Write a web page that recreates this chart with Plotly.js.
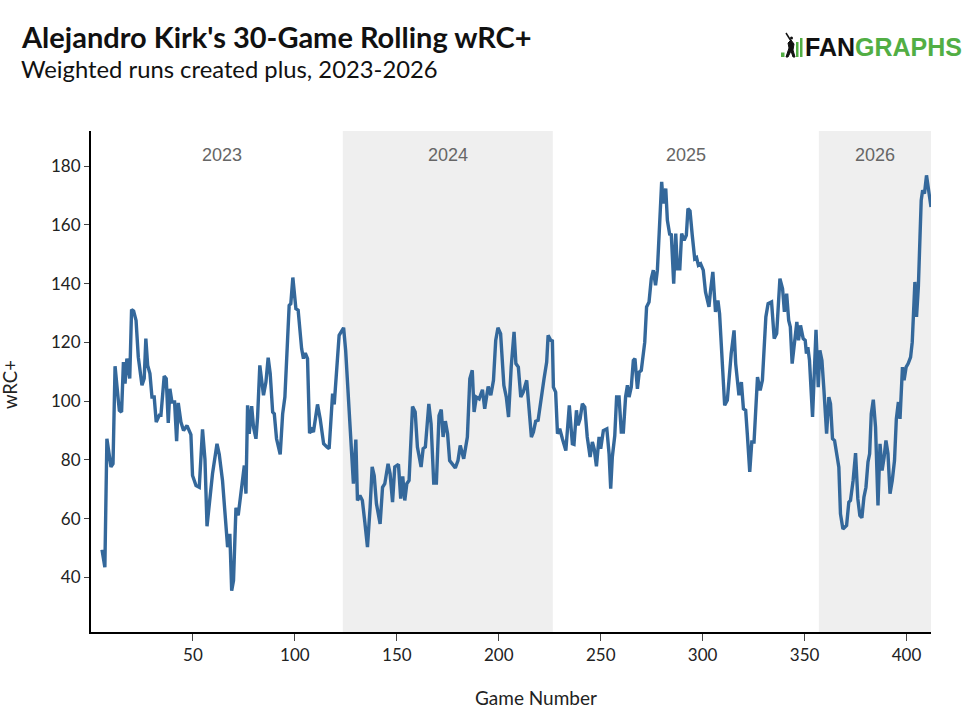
<!DOCTYPE html>
<html>
<head>
<meta charset="utf-8">
<script src="https://cdn.plot.ly/plotly-3.0.1.min.js"></script>
<style>html,body{margin:0;padding:0;background:#fff;}#chart{width:975px;height:711px;}</style>
</head>
<body>
<div id="chart"></div>
<script>
// ---- data ----
const games = [
5.4, 6.8, 7.8, 9.8, 10.8, 11.8, 13.4, 13.9, 15.0, 15.9, 16.7, 17.6, 19.0, 19.9, 20.9, 22.1, 23.2, 25.0, 26.1, 26.9, 27.8, 28.9, 29.9, 31.0, 32.0, 33.5, 34.3, 35.9, 36.9, 37.9, 38.7, 39.7, 41.0, 42.0, 42.8, 44.1, 45.4, 47.1, 49.0, 49.8, 51.5, 53.1, 54.7, 55.9, 56.9, 58.0, 59.6, 61.8, 62.9, 64.5, 66.2, 67.0, 68.1, 69.0, 69.9, 71.1, 72.2, 73.2, 74.4, 75.2, 76.0, 76.8, 77.6, 78.8, 79.7, 80.9, 81.7, 82.8, 84.6, 85.8, 86.9, 87.9, 89.1, 89.9, 91.0, 92.8, 94.0, 95.1, 96.4, 97.2, 98.0, 99.0, 100.5, 101.6, 103.3, 104.2, 105.1, 106.2, 107.2, 108.3, 109.1, 111.1, 112.4, 114.1, 115.7, 116.8, 118.5, 119.3, 121.7, 122.5, 123.9,
124.9, 126.6, 127.8, 128.7, 129.9, 130.7, 131.9, 133.1, 134.3, 135.6, 136.9, 137.9, 138.9, 140.0, 141.8, 143.0, 144.1, 145.7, 146.7, 147.9, 149.0, 150.8, 151.9, 152.9, 153.9, 154.9, 156.0, 157.7, 159.0, 160.1, 161.9, 162.9, 164.0, 165.7, 166.8, 168.1, 169.4, 170.7, 171.8, 172.7, 173.8, 174.9, 175.9, 177.5, 178.7, 180.0, 181.1, 182.8, 184.6, 185.8, 187.0, 187.9, 189.0, 190.4, 192.0, 193.1, 194.8, 196.1, 197.4, 198.5, 199.6, 200.9, 202.5, 203.7, 204.8, 206.1, 207.5, 208.4, 209.6, 210.8, 212.0, 213.7, 214.8, 216.0, 217.0, 218.1, 219.3, 220.9, 222.2, 223.5, 224.2, 225.5, 226.3,
226.8, 227.9, 228.8, 229.9, 231.2, 232.9, 234.6, 236.1, 236.9, 238.1, 238.9, 239.9, 241.0, 242.2, 243.4, 244.8, 245.9, 246.8, 247.9, 249.2, 250.0, 251.3, 253.0, 254.1, 254.9, 255.7, 256.9, 257.8, 259.0, 260.1, 261.1, 262.2, 263.1, 263.9, 265.0, 266.0, 266.8, 268.0, 268.9, 269.9, 271.6, 272.5, 273.7, 274.8, 275.8, 276.9, 277.8, 278.7, 279.9, 280.7, 281.9, 282.7, 283.9, 284.6, 285.8, 286.8, 287.6, 288.8, 289.7, 290.9, 292.0, 292.8, 293.8, 294.9, 296.1, 297.0, 297.9, 299.0, 300.3, 301.4, 303.1, 303.9, 305.0, 306.3, 307.5, 308.3, 309.6, 310.8, 312.1, 314.0, 315.4, 316.2, 317.8, 319.0, 320.0, 321.1, 321.9, 323.1, 324.1, 325.2, 326.9, 328.2, 329.3, 331.0, 332.1, 333.8, 335.1, 336.3, 337.9, 339.2, 340.1, 341.2, 342.2, 343.0, 343.9, 345.0, 346.2, 347.0, 348.0, 349.3,
350.3, 350.9, 351.6, 352.4, 353.9, 355.6, 356.7, 357.5, 358.5, 359.5, 360.8, 361.9, 362.7, 363.7, 364.7, 366.0, 366.8, 367.6, 368.8, 370.6, 371.7, 372.5, 373.8, 375.0, 376.1, 377.1, 378.1, 379.1, 380.1, 381.1, 381.9, 382.7, 383.7, 384.8, 386.0, 387.0, 388.0, 389.0, 389.9, 390.9, 391.9, 393.0, 394.1, 395.0, 396.0, 396.8, 398.0, 398.8, 399.8, 400.8, 402.0, 402.8, 403.6, 404.1, 404.9, 405.8, 406.6, 407.2, 407.9, 408.8, 409.8, 411.0, 412.0
];
const wrcPlus = [
49.4, 43.5, 87.2, 77.6, 78.7, 111.9, 100.3, 96.9, 96.3, 113.3, 106.0, 114.5, 107.7, 131.2, 130.7, 127.5, 115.0, 105.4, 107.7, 121.3, 112.2, 109.4, 101.4, 101.4, 92.9, 95.2, 95.2, 108.5, 107.7, 92.6, 104.2, 99.7, 99.7, 86.4, 99.4, 92.9, 90.0, 91.7, 88.6, 74.7, 71.3, 70.7, 90.4, 80.1, 57.4, 65.1, 75.3, 85.5, 81.9, 73.0, 56.0, 50.3, 54.8, 35.5, 38.9, 63.7, 61.1, 66.2, 74.2, 78.1, 68.5, 98.6, 88.9, 98.3, 91.2, 87.2, 94.6, 112.2, 102.0, 106.5, 114.8, 109.4, 96.3, 95.7, 87.2, 81.9, 95.7, 101.4, 120.7, 132.6, 133.2, 142.1, 131.5, 131.0, 117.9, 114.5, 116.4, 114.5, 89.1, 90.3, 89.5, 98.9, 94.0, 85.5, 84.4, 83.8, 102.6, 98.9, 122.4, 123.2, 125.0,
117.3, 95.7, 83.2, 71.9, 86.9, 66.2, 67.9, 66.2, 58.8, 50.3, 63.9, 77.6, 74.7, 65.1, 58.2, 70.7, 71.9, 78.7, 75.3, 65.6, 77.6, 78.5, 66.8, 74.4, 66.2, 71.9, 73.0, 98.2, 96.3, 84.4, 77.6, 83.8, 84.4, 99.1, 92.3, 72.1, 72.1, 95.1, 97.1, 87.8, 93.2, 88.9, 79.8, 78.1, 77.3, 79.8, 84.9, 80.4, 87.8, 107.6, 110.5, 96.3, 101.4, 100.8, 103.9, 97.4, 105.0, 102.0, 107.1, 120.7, 125.0, 123.0, 105.4, 101.4, 94.6, 111.6, 123.6, 112.8, 111.6, 101.4, 103.1, 107.1, 96.3, 87.8, 89.5, 93.2, 93.5, 100.3, 107.6, 113.3, 122.4, 120.7, 120.5,
104.8, 103.1, 88.9, 90.6, 87.2, 83.2, 98.6, 85.5, 85.3, 96.9, 91.8, 94.0, 99.1, 98.0, 87.8, 81.0, 86.1, 83.8, 77.8, 87.8, 83.8, 90.0, 90.6, 82.1, 70.2, 81.0, 88.3, 101.4, 101.4, 89.5, 89.5, 101.4, 105.4, 101.4, 104.8, 113.9, 114.5, 104.2, 109.9, 110.5, 120.1, 132.1, 133.8, 141.7, 144.6, 139.5, 144.6, 158.8, 174.7, 167.3, 172.4, 161.6, 156.5, 157.1, 140.0, 157.1, 145.1, 145.1, 157.1, 154.8, 156.5, 165.6, 164.8, 156.5, 148.5, 148.9, 146.3, 146.8, 144.6, 137.2, 132.1, 137.8, 144.0, 130.4, 134.3, 129.8, 110.5, 98.6, 100.3, 116.2, 124.1, 112.8, 102.0, 106.5, 97.4, 96.9, 88.9, 75.9, 86.1, 86.1, 108.2, 103.7, 107.1, 128.7, 133.2, 133.8, 121.3, 123.0, 141.7, 138.3, 130.4, 136.6, 127.5, 125.3, 112.8, 119.6, 127.0, 120.7, 125.8, 121.3,
120.7, 116.2, 118.4, 113.9, 94.6, 124.3, 104.8, 117.3, 113.9, 103.7, 88.9, 101.4, 99.1, 87.2, 86.6, 81.0, 77.5, 61.6, 56.5, 57.7, 65.6, 66.2, 73.0, 82.3, 66.8, 61.1, 60.3, 67.3, 70.7, 79.3, 82.1, 95.7, 100.5, 91.2, 64.5, 85.5, 76.4, 80.9, 86.6, 82.1, 68.5, 73.0, 79.8, 94.0, 99.7, 94.0, 111.6, 107.1, 111.6, 112.8, 115.0, 120.1, 129.8, 140.6, 128.7, 138.9, 155.9, 168.4, 171.8, 170.7, 176.9, 171.8, 166.1
];
const seasons = ['2023', '2024', '2025', '2026'];
const seasonStart = [5, 123.5, 226.5, 357];
const seasonEnd = [123.5, 226.5, 357, 412];
const shadedSeasons = ['2024', '2026'];
const xTicks = [50, 100, 150, 200, 250, 300, 350, 400];
const yTicks = [40, 60, 80, 100, 120, 140, 160, 180];

// ---- layout helpers (pixel -> paper) ----
const L = 91, R = 931, T = 131, B = 632;
const px = x => (x - L) / (R - L);
const py = y => (B - y) / (B - T);

const shapes = [];
const annotations = [];
seasons.forEach((s, i) => {
  if (shadedSeasons.includes(s)) {
    shapes.push({type: 'rect', xref: 'x', yref: 'paper', x0: seasonStart[i], x1: seasonEnd[i], y0: 0, y1: 1,
      fillcolor: '#efefef', line: {width: 0}, layer: 'below'});
  }
  annotations.push({xref: 'x', yref: 'paper', x: (seasonStart[i] + seasonEnd[i]) / 2, y: py(155),
    text: s, showarrow: false, xanchor: 'center', yanchor: 'middle',
    font: {family: 'Liberation Sans, Arial, sans-serif', size: 18, color: '#666666'}});
});

// titles
annotations.push({xref: 'paper', yref: 'paper', x: px(19), y: py(37), xanchor: 'left', yanchor: 'middle',
  text: "<b>Alejandro Kirk's 30-Game Rolling wRC+</b>", showarrow: false,
  font: {family: 'Lato, sans-serif', size: 29, color: '#111111'}});
annotations.push({xref: 'paper', yref: 'paper', x: px(19), y: py(69), xanchor: 'left', yanchor: 'middle',
  text: 'Weighted runs created plus, 2023-2026', showarrow: false,
  font: {family: 'Lato, sans-serif', size: 23.8, color: '#111111'}});
// axis titles
annotations.push({xref: 'paper', yref: 'paper', x: px(536), y: py(697), xanchor: 'center', yanchor: 'middle',
  text: 'Game Number', showarrow: false, font: {family: 'Lato, sans-serif', size: 19, color: '#222222'}});
annotations.push({xref: 'paper', yref: 'paper', x: px(10), y: py(385), xanchor: 'center', yanchor: 'middle',
  text: 'wRC+', textangle: -90, showarrow: false, font: {family: 'Lato, sans-serif', size: 18.5, color: '#222222'}});
// logo text
annotations.push({xref: 'paper', yref: 'paper', x: px(803), y: py(47.5), xanchor: 'left', yanchor: 'middle',
  text: '<b>FAN<span style="color:#52ae44">GRAPHS</span></b>', showarrow: false,
  font: {family: 'Liberation Sans, Arial, sans-serif', size: 25, color: '#111111'}});
// logo marks
const green = '#52ae44';
shapes.push({type: 'rect', xref: 'paper', yref: 'paper', x0: px(781), x1: px(784.5), y0: py(57), y1: py(52.5), fillcolor: green, line: {width: 0}});
shapes.push({type: 'rect', xref: 'paper', yref: 'paper', x0: px(796), x1: px(798.5), y0: py(57), y1: py(42), fillcolor: green, line: {width: 0}});
shapes.push({type: 'rect', xref: 'paper', yref: 'paper', x0: px(800), x1: px(802.5), y0: py(57), y1: py(38), fillcolor: green, line: {width: 0}});
shapes.push({type: 'path', xref: 'paper', yref: 'paper',
  path: `M ${px(786)} ${py(57)} L ${px(789)} ${py(48)} L ${px(788)} ${py(43)} L ${px(791)} ${py(40)} L ${px(794)} ${py(44)} L ${px(793)} ${py(50)} L ${px(795)} ${py(57)} L ${px(793)} ${py(57)} L ${px(791)} ${py(51)} L ${px(788)} ${py(57)} Z`,
  fillcolor: '#111111', line: {color: '#111111', width: 1}});
shapes.push({type: 'line', xref: 'paper', yref: 'paper', x0: px(791), y0: py(41), x1: px(786), y1: py(33), line: {color: '#111111', width: 1.5}});
shapes.push({type: 'circle', xref: 'paper', yref: 'paper', x0: px(790), x1: px(793), y0: py(39.5), y1: py(36.5), fillcolor: '#111111', line: {width: 0}});

const trace = {x: games, y: wrcPlus, type: 'scatter', mode: 'lines',
  line: {color: '#34689b', width: 3.4}, hoverinfo: 'skip'};

const axisFont = {family: 'Lato, sans-serif', size: 17, color: '#222222'};
const layout = {
  width: 975, height: 711,
  margin: {l: L, r: 975 - R, t: T, b: 711 - B, pad: 0},
  paper_bgcolor: '#ffffff', plot_bgcolor: '#ffffff',
  showlegend: false,
  xaxis: {range: [0, 412], tickvals: xTicks, ticktext: xTicks.map(String), ticks: 'outside', ticklen: 7, tickwidth: 1, tickcolor: '#444',
    showline: true, linecolor: '#000', linewidth: 2, showgrid: false, zeroline: false, tickfont: axisFont, automargin: false},
  yaxis: {range: [21.4, 192], tickvals: yTicks, ticktext: yTicks.map(String), ticks: 'outside', ticklen: 5, tickwidth: 1, tickcolor: '#444',
    showline: true, linecolor: '#000', linewidth: 2, showgrid: false, zeroline: false, tickfont: axisFont, automargin: false},
  shapes: shapes,
  annotations: annotations
};
Plotly.newPlot('chart', [trace], layout, {displayModeBar: false, staticPlot: true});
</script>
</body>
</html>
